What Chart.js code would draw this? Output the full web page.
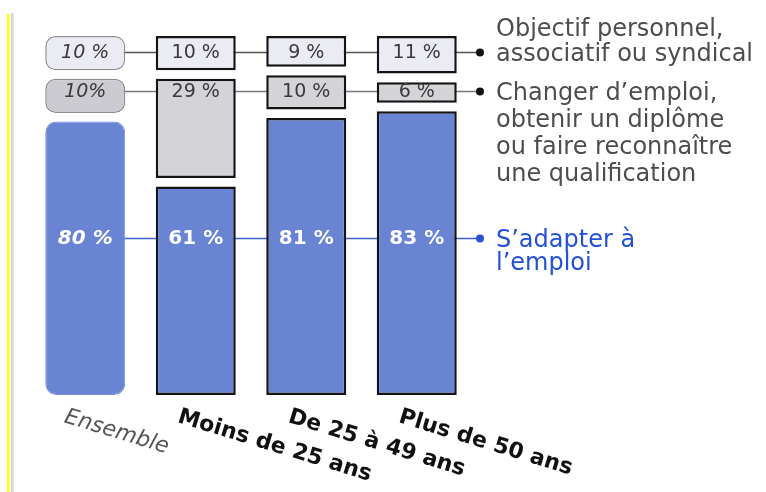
<!DOCTYPE html>
<html>
<head>
<meta charset="utf-8">
<script src="https://cdn.jsdelivr.net/npm/chart.js@4"></script>
<style>
html, body { margin: 0; padding: 0; background: #fff; }
#wrap { width: 766px; height: 492px; position: relative; }
</style>
</head>
<body>
<div id="wrap"><canvas id="chart"></canvas></div>
<script>
// data (%)
const categories = ['Ensemble', 'Moins de 25 ans', 'De 25 à 49 ans', 'Plus de 50 ans'];
const adapter = [80, 61, 81, 83];
const changer = [10, 29, 10, 6];
const objectif = [10, 10, 9, 11];
const seriesNames = [
    ['S\u2019adapter à', 'l\u2019emploi'],
    ['Changer d\u2019emploi,', 'obtenir un diplôme', 'ou faire reconnaître', 'une qualification'],
    ['Objectif personnel,', 'associatif ou syndical']
];

// small gap between the stacked boxes, in value units
const GAP = 2.5;
const adapterRanges = adapter.map(v => [0, v]);
const changerRanges = changer.map((v, i) => [adapter[i] + GAP, adapter[i] + GAP + v]);
const objectifRanges = objectif.map((v, i) => {
    const s = adapter[i] + changer[i] + 2 * GAP;
    return [s, s + v];
});

// level (in value units) of the connecting line of each row
const rowLevels = [45.9, 89, 100.2];
const rowLineColors = ['#3f5fcf', '#7a7a7a', '#555555'];
const FONT = '"DejaVu Sans", sans-serif';

function fmt(v, row, i) {
    if (row === 1 && i === 0) return v + '%';
    return v + ' %';
}

const decor = {
    id: 'decor',
    beforeDraw(chart) {
        const c = chart.ctx;
        c.save();
        c.fillStyle = '#fff';
        c.fillRect(0, 0, chart.width, chart.height);
        // scan edge
        c.fillStyle = '#ffff00';
        c.fillRect(7, 14, 2.5, chart.height - 14);
        c.fillStyle = '#d2d2da';
        c.fillRect(11, 13, 2.5, chart.height - 13);
        c.restore();
    },
    beforeDatasetsDraw(chart) {
        const c = chart.ctx;
        const x = chart.scales.x, y = chart.scales.y;
        const dotX = 480;
        c.save();
        rowLevels.forEach((lv, r) => {
            const py = Math.round(y.getPixelForValue(lv)) + 0.5;
            c.strokeStyle = rowLineColors[r];
            c.lineWidth = 1.5;
            c.beginPath();
            c.moveTo(x.getPixelForValue(0), py);
            c.lineTo(dotX, py);
            c.stroke();
            c.fillStyle = r === 0 ? '#2a52d4' : '#111';
            c.beginPath();
            c.arc(dotX, py, 4, 0, Math.PI * 2);
            c.fill();

            // legend text on the right
            const lines = seriesNames[r];
            const anchor = r === 2 ? 1 : 0;
            const lh = r === 0 ? 23 : (r === 1 ? 27 : 25);
            c.fillStyle = r === 0 ? '#2450d6' : '#4d4d4d';
            c.font = '24px ' + FONT;
            c.textAlign = 'left';
            c.textBaseline = 'alphabetic';
            lines.forEach((t, k) => {
                c.fillText(t, 496, py + 8 + (k - anchor) * lh);
            });
        });
        c.restore();
    },
    afterDatasetsDraw(chart) {
        const c = chart.ctx;
        const x = chart.scales.x, y = chart.scales.y;
        const rows = [adapter, changer, objectif];
        c.save();
        c.textAlign = 'center';
        c.textBaseline = 'middle';
        rows.forEach((vals, r) => {
            const py = y.getPixelForValue(rowLevels[r]);
            vals.forEach((v, i) => {
                const px = x.getPixelForValue(i);
                if (r === 0) {
                    c.fillStyle = '#ffffff';
                    c.font = (i === 0 ? 'italic ' : '') + 'bold 20px ' + FONT;
                } else {
                    c.fillStyle = '#3a3a3a';
                    c.font = (i === 0 ? 'italic ' : '') + '19px ' + FONT;
                }
                c.fillText(fmt(v, r, i), px, py + 1);
            });
        });

        // slanted category labels under the bars
        categories.forEach((lab, i) => {
            const px = x.getPixelForValue(i);
            c.save();
            if (i === 0) {
                c.translate(px - 17, 406);
                c.font = 'italic 22px ' + FONT;
                c.fillStyle = '#555';
            } else {
                c.translate(px - 14, 406);
                c.font = 'bold 22px ' + FONT;
                c.fillStyle = '#111';
            }
            c.rotate(17 * Math.PI / 180);
            c.textAlign = 'left';
            c.textBaseline = 'top';
            c.fillText(lab, 0, 0);
            c.restore();
        });
        c.restore();
    }
};

const isEns = ctx => ctx.dataIndex === 0;

new Chart(document.getElementById('chart'), {
    type: 'bar',
    data: {
        labels: categories,
        datasets: [{
            label: seriesNames[0].join(' '),
            data: adapterRanges,
            backgroundColor: '#6a84d4',
            borderColor: ctx => isEns(ctx) ? '#7890da' : '#141414',
            borderWidth: ctx => isEns(ctx) ? 1 : 2.5,
            borderRadius: ctx => isEns(ctx) ? 11 : 0,
            borderSkipped: false
        }, {
            label: seriesNames[1].join(' '),
            data: changerRanges,
            backgroundColor: ctx => isEns(ctx) ? '#cbcbd1' : '#d3d3d8',
            borderColor: ctx => isEns(ctx) ? '#8c8c92' : '#141414',
            borderWidth: ctx => isEns(ctx) ? 1.5 : 2.5,
            borderRadius: ctx => isEns(ctx) ? 10 : 0,
            borderSkipped: false
        }, {
            label: seriesNames[2].join(' '),
            data: objectifRanges,
            backgroundColor: '#ebebf3',
            borderColor: ctx => isEns(ctx) ? '#8c8c92' : '#141414',
            borderWidth: ctx => isEns(ctx) ? 1.5 : 2.5,
            borderRadius: ctx => isEns(ctx) ? 10 : 0,
            borderSkipped: false
        }]
    },
    options: {
        responsive: true,
        maintainAspectRatio: false,
        animation: false,
        layout: { padding: { top: 36, bottom: 97, left: 30, right: 294 } },
        barPercentage: 0.724,
        categoryPercentage: 1,
        plugins: { legend: { display: false }, tooltip: { enabled: false } },
        scales: {
            x: { stacked: true, display: false },
            y: { stacked: false, display: false, min: 0, max: 105 }
        }
    },
    plugins: [decor]
});
</script>
</body>
</html>
